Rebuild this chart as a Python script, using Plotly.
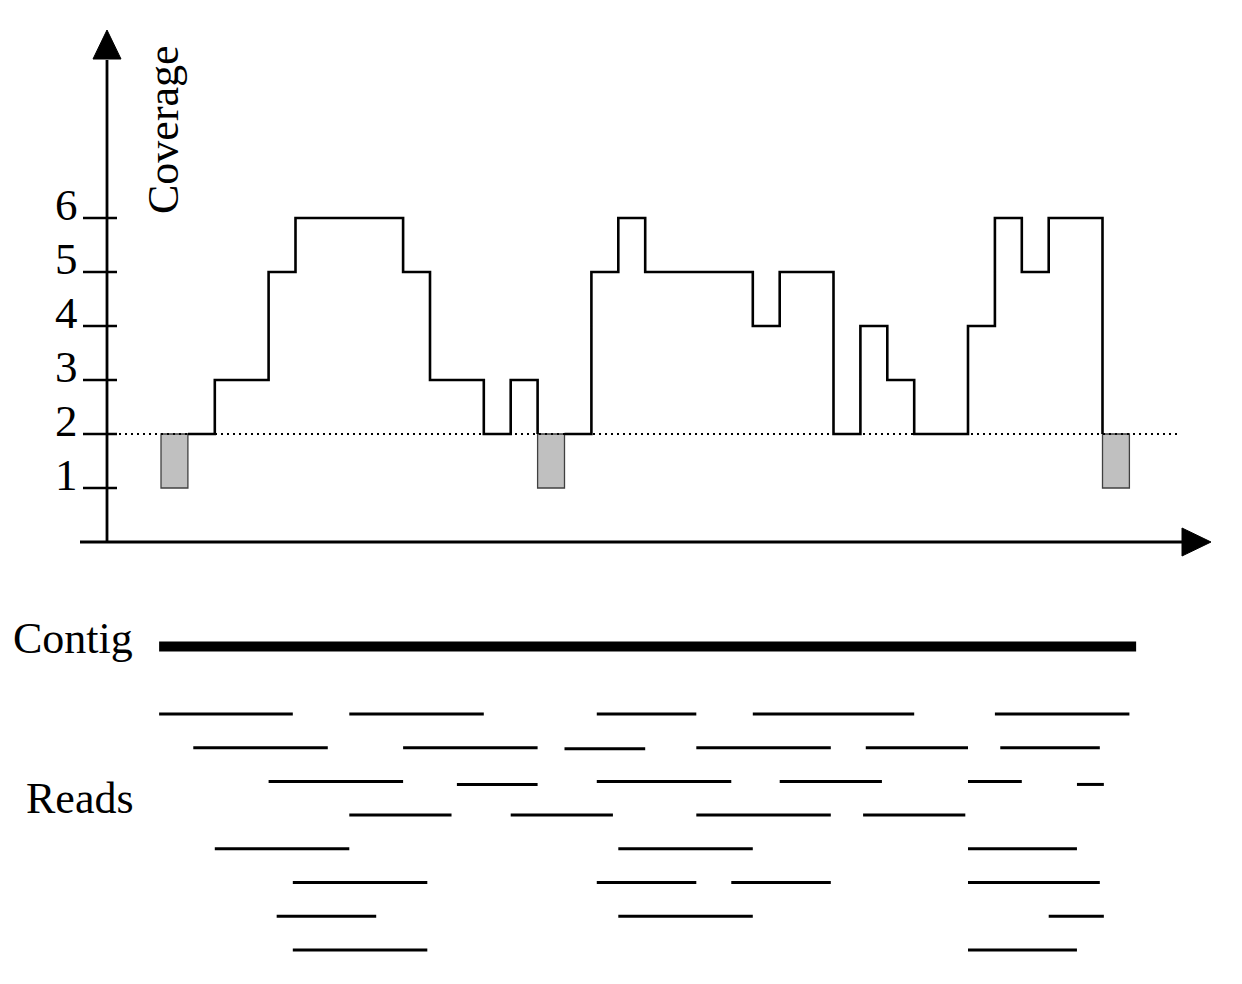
import plotly.graph_objects as go

# ---------------- data ----------------
# coverage profile: segment boundaries (in read-position units) and coverage per segment
cov_bounds = [0, 1, 2, 4, 5, 9, 10, 12, 13, 14, 15, 16, 17, 18, 22, 23, 25, 26, 27, 28, 30, 31, 32, 33, 35, 36]
cov_values = [1, 2, 3, 5, 6, 5, 3, 2, 3, 1, 2, 5, 6, 5, 4, 5, 2, 4, 3, 2, 4, 6, 5, 6, 1]
min_coverage = 2
y_ticks = [1, 2, 3, 4, 5, 6]
y_tick_labels = ["1", "2", "3", "4", "5", "6"]

contig_start = -0.07
contig_end = 36.25

read_starts = [-0.07, 7.0, 16.2, 22.0, 31.0,
               1.2, 9.0, 15.0, 19.9, 26.2, 31.2,
               4.0, 11.0, 16.2, 23.0, 30.0, 34.05,
               7.0, 13.0, 19.9, 26.1,
               2.0, 17.0, 30.0,
               4.9, 16.2, 21.2, 30.0,
               4.3, 17.0, 33.0,
               4.9, 30.0]
read_ends = [4.9, 12.0, 19.9, 28.0, 36.0,
             6.2, 14.0, 18.0, 24.9, 30.0, 34.9,
             9.0, 14.0, 21.2, 26.8, 32.0, 35.05,
             10.8, 16.8, 24.9, 29.9,
             7.0, 22.0, 34.05,
             9.9, 19.9, 24.9, 34.9,
             8.0, 22.0, 35.05,
             9.9, 34.05]
read_rows = [1, 1, 1, 1, 1,
             2, 2, 2.03, 2, 2, 2,
             3, 3.09, 3, 3, 3, 3.09,
             4, 4, 4, 4,
             5, 5, 5,
             6, 6, 6, 6,
             7, 7, 7,
             8, 8]
contig_row = -1

# ---------------- geometry ----------------
W, H = 1242, 984
X0_PX, PX_PER_U = 161.0, 26.9      # x pixel of position 0, pixels per unit
Y0_PX, PX_PER_C = 542.0, 54.0      # y pixel of coverage 0, pixels per coverage unit
ROW1_PX, PX_PER_ROW = 714.0, 33.7  # y pixel of read row 1, pixels per row

def u(px):   # x pixel -> data units
    return (px - X0_PX) / PX_PER_U

def c(py):   # y pixel -> coverage units
    return (Y0_PX - py) / PX_PER_C

FONT = "Liberation Serif"
BLACK = "#000000"

fig = go.Figure()

# dotted minimum-coverage line
fig.add_trace(go.Scatter(x=[u(107), u(1180)], y=[min_coverage, min_coverage], mode="lines",
                         line=dict(color=BLACK, width=2, dash="2px,4px"), hoverinfo="skip"))

# grey boxes for segments below the minimum coverage
gx, gw, gb, gh = [], [], [], []
for i, v in enumerate(cov_values):
    if v < min_coverage:
        gx.append((cov_bounds[i] + cov_bounds[i + 1]) / 2)
        gw.append(cov_bounds[i + 1] - cov_bounds[i])
        gb.append(v)
        gh.append(min_coverage - v)
fig.add_trace(go.Bar(x=gx, y=gh, base=gb, width=gw, marker=dict(color="#c0c0c0", line=dict(color="#404040", width=1.3)),
                     hoverinfo="skip"))

# step line for segments at or above minimum coverage
runs = []
cur = None
for i, v in enumerate(cov_values):
    if v >= min_coverage:
        if cur is None:
            cur = []
        cur.append(i)
    else:
        if cur:
            runs.append(cur)
        cur = None
if cur:
    runs.append(cur)

sx, sy = [], []
for run in runs:
    first = run[0]
    sx.append(cov_bounds[first]); sy.append(min_coverage)
    for i in run:
        sx += [cov_bounds[i], cov_bounds[i + 1]]
        sy += [cov_values[i], cov_values[i]]
    sx.append(cov_bounds[run[-1] + 1]); sy.append(min_coverage)
    sx.append(None); sy.append(None)
fig.add_trace(go.Scatter(x=sx, y=sy, mode="lines", line=dict(color=BLACK, width=2.6), hoverinfo="skip"))

# axes lines
fig.add_trace(go.Scatter(x=[u(107), u(107)], y=[0, c(60)], mode="lines", line=dict(color=BLACK, width=2.8), hoverinfo="skip"))
fig.add_trace(go.Scatter(x=[u(80), u(1184)], y=[0, 0], mode="lines", line=dict(color=BLACK, width=2.8), hoverinfo="skip"))
# arrow heads
fig.add_trace(go.Scatter(x=[u(107), u(93), u(121), u(107)], y=[c(30), c(59), c(59), c(30)], mode="lines",
                         fill="toself", fillcolor=BLACK, line=dict(color=BLACK, width=1), hoverinfo="skip"))
fig.add_trace(go.Scatter(x=[u(1211), u(1182), u(1182), u(1211)], y=[0, c(528), c(556), 0], mode="lines",
                         fill="toself", fillcolor=BLACK, line=dict(color=BLACK, width=1), hoverinfo="skip"))

# y ticks
tx, ty = [], []
for t in y_ticks:
    tx += [u(83), u(117), None]
    ty += [t, t, None]
fig.add_trace(go.Scatter(x=tx, y=ty, mode="lines", line=dict(color=BLACK, width=2.6), hoverinfo="skip"))

# contig and reads (second y axis in read-row units)
fig.add_trace(go.Scatter(x=[contig_start, contig_end], y=[contig_row, contig_row], yaxis="y2", mode="lines",
                         line=dict(color=BLACK, width=10), hoverinfo="skip"))
rx, ry = [], []
for s, e, r in zip(read_starts, read_ends, read_rows):
    rx += [s, e, None]
    ry += [r, r, None]
fig.add_trace(go.Scatter(x=rx, y=ry, yaxis="y2", mode="lines", line=dict(color=BLACK, width=3), hoverinfo="skip"))

annotations = []
for t, lab in zip(y_ticks, y_tick_labels):
    annotations.append(dict(x=u(107), y=t, xref="x", yref="y", text=lab, showarrow=False,
                            xanchor="right", yanchor="middle", xshift=-27, yshift=13,
                            font=dict(family=FONT, size=45, color=BLACK)))
annotations.append(dict(x=u(163), y=c(130), xref="x", yref="y", text="Coverage", textangle=-90, showarrow=False,
                        xanchor="center", yanchor="middle", font=dict(family=FONT, size=44, color=BLACK)))
annotations.append(dict(x=11 / W, y=1 - 638 / H, xref="paper", yref="paper", text="Contig", showarrow=False,
                        xanchor="left", yanchor="middle", font=dict(family=FONT, size=44, color=BLACK)))
annotations.append(dict(x=24 / W, y=1 - 798 / H, xref="paper", yref="paper", text="Reads", showarrow=False,
                        xanchor="left", yanchor="middle", font=dict(family=FONT, size=44, color=BLACK)))

fig.update_layout(
    width=W, height=H, autosize=False,
    margin=dict(l=0, r=0, t=0, b=0, pad=0),
    paper_bgcolor="white", plot_bgcolor="white",
    showlegend=False, barmode="overlay",
    xaxis=dict(range=[u(0), u(W)], visible=False, fixedrange=True, domain=[0, 1]),
    yaxis=dict(range=[c(H), c(0)], visible=False, fixedrange=True, domain=[0, 1]),
    yaxis2=dict(range=[1 + (H - ROW1_PX) / PX_PER_ROW, 1 - ROW1_PX / PX_PER_ROW], overlaying="y",
                visible=False, fixedrange=True),
    annotations=annotations,
)

fig.write_html("out.html", config={"displayModeBar": False})
